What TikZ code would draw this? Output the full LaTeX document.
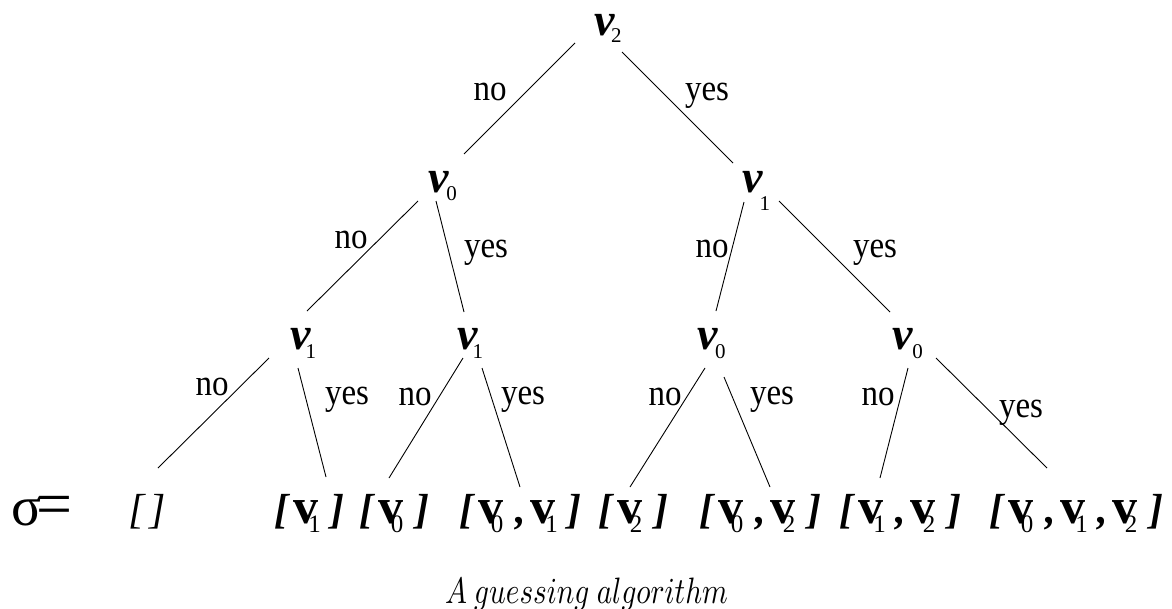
\documentclass[tikz,border=0pt]{standalone}
\usepackage{fontspec}
\setmainfont{Liberation Serif}
\usepackage{graphicx}
\newcommand\bigbi{\fontsize{42}{42}\selectfont\bfseries\itshape}
\newcommand\bigi{\fontsize{42}{42}\selectfont\mdseries\itshape}
\newcommand\bigbv{\fontsize{50}{50}\selectfont\bfseries\upshape}
\newcommand\subd{\fontsize{25}{25}\selectfont\mdseries\upshape}
\newcommand\topv{\fontsize{46}{46}\selectfont\bfseries\itshape}
\newcommand\tsub{\fontsize{21}{21}\selectfont\mdseries\upshape}
\newcommand\lblfont{\fontsize{33}{33}\selectfont}
\newcommand\lbr{\makebox[19pt][l]{\bigbi[}}
\newcommand\vsb[2][12.8pt]{\makebox[37pt][l]{\rlap{\bigbv v}\hspace{#1}\raisebox{-9pt}{\subd #2}}}
\newcommand\cma{\makebox[15pt][l]{\bigbi,}}
\newcommand\rbr{{\bigbi]}}
\newcommand\tv[3]{\rlap{\topv v}\hspace{#1}\raisebox{-#2}{\tsub #3}}
\newcommand\lbl[1]{\scalebox{1}[1.12]{#1}}
\begin{document}
\begin{tikzpicture}[x=1pt,y=-1pt,
  tn/.style={anchor=base west,inner sep=0pt,outer sep=0pt},
  lbl/.style={anchor=base,inner sep=0pt,font=\lblfont},
  edge/.style={draw=black,line width=0.9pt}]
\useasboundingbox (0,0) rectangle (1172,608);
% tree nodes
\node[tn] (r) at (594,35) {\tv{17pt}{7pt}{2}};
\node[tn] (a) at (428,192) {\tv{18.4pt}{8pt}{0}};
\node[tn] (b) at (742,192) {\tv{17.5pt}{18pt}{1}};
\node[tn] (c) at (290,349) {\tv{15.5pt}{9pt}{1}};
\node[tn] (d) at (457,349) {\tv{15.5pt}{9pt}{1}};
\node[tn] (e) at (697,349) {\tv{18pt}{9pt}{0}};
\node[tn] (f) at (892,349) {\tv{20.4pt}{9pt}{0}};
% leaves
\node[tn] (s) at (12,525) {\fontsize{56}{56}\selectfont\makebox[25pt][l]{σ}\resizebox{36pt}{!}{=}};
\node[tn] (L1) at (128,523) {\bigi\makebox[22pt][l]{[}]};
\node[tn] (L2) at (274,523) {\lbr\vsb[15.3pt]{1}\rbr};
\node[tn] (L3) at (359,523) {\lbr\vsb{0}\rbr};
\node[tn] (L4) at (459,523) {\lbr\vsb{0}\cma\vsb[15.3pt]{1}\rbr};
\node[tn] (L5) at (598,523) {\lbr\vsb{2}\rbr};
\node[tn] (L6) at (699,523) {\lbr\vsb{0}\cma\vsb{2}\rbr};
\node[tn] (L7) at (839,523) {\lbr\vsb[15.3pt]{1}\cma\vsb{2}\rbr};
\node[tn] (L8) at (989,523) {\lbr\vsb{0}\cma\vsb[15.3pt]{1}\cma\vsb{2}\rbr};
% edges
\draw[edge] ([shift={(-19,8)}]r.base west) -- ([shift={(36,-38)}]a.base west);
\draw[edge] ([shift={(28,17)}]r.base west) -- ([shift={(-9,-29)}]b.base west);
\draw[edge] ([shift={(-10,9)}]a.base west) -- ([shift={(17,-38)}]c.base west);
\draw[edge] ([shift={(8,9)}]a.base west) -- ([shift={(7,-37)}]d.base west);
\draw[edge] ([shift={(2,10)}]b.base west) -- ([shift={(19,-38)}]e.base west);
\draw[edge] ([shift={(37,9)}]b.base west) -- ([shift={(-2,-37)}]f.base west);
\draw[edge] ([shift={(-21,9)}]c.base west) -- ([shift={(30,-55)}]L1.base west);
\draw[edge] ([shift={(8,19)}]c.base west) -- ([shift={(52,-46)}]L2.base west);
\draw[edge] ([shift={(6,9)}]d.base west) -- ([shift={(30,-45)}]L3.base west);
\draw[edge] ([shift={(25,19)}]d.base west) -- ([shift={(61,-36)}]L4.base west);
\draw[edge] ([shift={(8,19)}]e.base west) -- ([shift={(32,-36)}]L5.base west);
\draw[edge] ([shift={(27,28)}]e.base west) -- ([shift={(71,-36)}]L6.base west);
\draw[edge] ([shift={(16,19)}]f.base west) -- ([shift={(41,-45)}]L7.base west);
\draw[edge] ([shift={(44,9)}]f.base west) -- ([shift={(58,-55)}]L8.base west);
% edge labels
\node[lbl] (l1) at (490,100) {\lbl{no}};
\node[lbl] (l2) at (707,100) {\lbl{yes}};
\node[lbl] (l3) at (351,248) {\lbl{no}};
\node[lbl] (l4) at (486,257) {\lbl{yes}};
\node[lbl] (l5) at (712,257) {\lbl{no}};
\node[lbl] (l6) at (875,257) {\lbl{yes}};
\node[lbl] (l7) at (212,395) {\lbl{no}};
\node[lbl] (l8) at (347,404) {\lbl{yes}};
\node[lbl] (l9) at (415,405) {\lbl{no}};
\node[lbl] (l10) at (523,404) {\lbl{yes}};
\node[lbl] (l11) at (665,405) {\lbl{no}};
\node[lbl] (l12) at (772,404) {\lbl{yes}};
\node[lbl] (l13) at (878,405) {\lbl{no}};
\node[lbl] (l14) at (1021,417) {\lbl{yes}};
% caption
\node[tn] (cap) at (445,603) {\resizebox{283pt}{25.5pt}{$A\ guessing\ algorithm$}};
\end{tikzpicture}
\end{document}
